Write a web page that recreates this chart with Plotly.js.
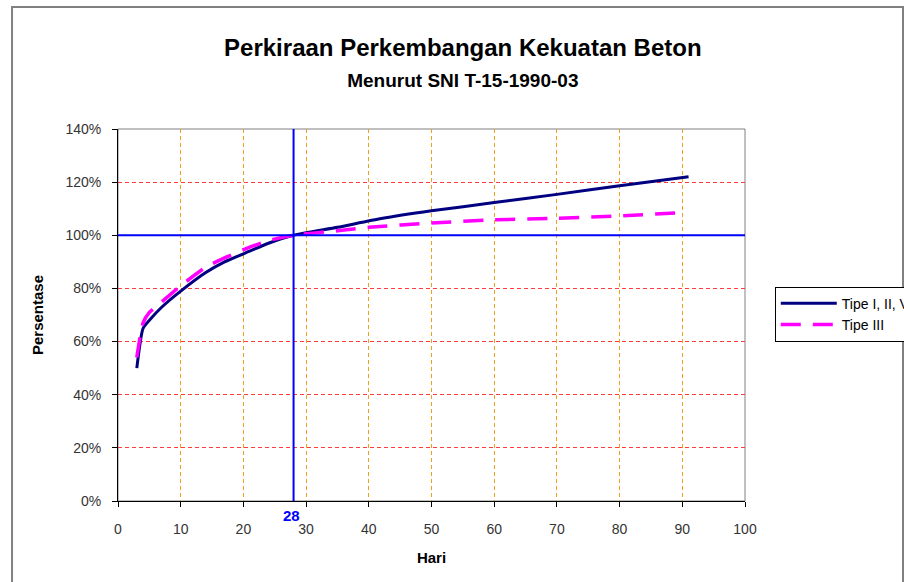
<!DOCTYPE html>
<html>
<head>
<meta charset="utf-8">
<script src="https://cdn.plot.ly/plotly-3.0.1.min.js"></script>
<style>
  html, body { margin: 0; padding: 0; background: #fff; }
  #chart { width: 904px; height: 582px; }
</style>
</head>
<body>
<div id="chart"></div>
<script>
// Days (Hari) and strength percentage (Persentase)
const daysTipe1 = [3, 4, 5, 7, 10, 14, 17, 21, 24, 28, 35, 42, 50, 60, 70, 80, 91];
const valsTipe1 = [0.50, 0.65, 0.68, 0.73, 0.79, 0.86, 0.90, 0.94, 0.97, 1.00, 1.03, 1.063, 1.092, 1.123, 1.154, 1.186, 1.22];
const daysTipe3 = [3, 4, 5, 6, 7, 10, 14, 17, 21, 24, 28, 35, 40, 50, 60, 70, 80, 89];
const valsTipe3 = [0.54, 0.67, 0.71, 0.73, 0.75, 0.81, 0.88, 0.915, 0.955, 0.98, 1.00, 1.017, 1.03, 1.046, 1.058, 1.064, 1.073, 1.084];
const seriesNames = ["Tipe I, II, V", "Tipe III"];
const refDay = [28];
const refPct = [1.0];
const xTicks = [0, 10, 20, 30, 40, 50, 60, 70, 80, 90, 100];
const yTicks = [0, 0.2, 0.4, 0.6, 0.8, 1.0, 1.2, 1.4];

const traces = [
  {
    x: daysTipe1, y: valsTipe1, name: seriesNames[0], type: 'scatter', mode: 'lines',
    line: { color: '#000080', width: 3, shape: 'spline', smoothing: 0.6 }
  },
  {
    x: daysTipe3, y: valsTipe3, name: seriesNames[1], type: 'scatter', mode: 'lines',
    line: { color: '#ff00ff', width: 3.5, dash: '20px,12px', shape: 'spline', smoothing: 0.6 }
  }
];

const layout = {
  width: 904, height: 582,
  paper_bgcolor: '#ffffff', plot_bgcolor: '#ffffff',
  margin: { l: 118, r: 159, t: 129, b: 81, autoexpand: false },
  font: { family: 'Liberation Sans, Arial, sans-serif', color: '#000' },
  title: {
    text: '<b>Perkiraan Perkembangan Kekuatan Beton</b><br><b><span style="font-size:19px">Menurut SNI T-15-1990-03</span></b>',
    font: { size: 24, family: 'Liberation Sans, Arial, sans-serif', color: '#000' },
    x: 0.512, xanchor: 'center', y: 0.904, yanchor: 'middle'
  },
  xaxis: {
    range: [0, 100], tickvals: xTicks, ticktext: xTicks.map(String),
    showgrid: true, gridcolor: '#f0a020', griddash: '4px,3px', gridwidth: 1,
    zeroline: false, showline: true, linecolor: '#000', linewidth: 1,
    ticks: 'outside', ticklen: 5, tickcolor: '#000', ticklabelstandoff: 10,
    tickfont: { size: 14, color: '#333' },
    title: { text: '<b>Hari</b>', font: { size: 15, color: '#000' }, standoff: 16 },
    automargin: false, mirror: false
  },
  yaxis: {
    range: [0, 1.4], tickvals: yTicks, ticktext: yTicks.map(v => Math.round(v * 100) + '%'),
    showgrid: true, gridcolor: '#ff3c3c', griddash: '4px,3px', gridwidth: 1,
    zeroline: false, showline: true, linecolor: '#000', linewidth: 1,
    ticks: 'outside', ticklen: 5, tickcolor: '#000', ticklabelstandoff: 8,
    tickfont: { size: 14, color: '#333' },
    title: { text: '<b>Persentase</b>', font: { size: 15, color: '#000' }, standoff: 18 },
    automargin: false
  },
  showlegend: true,
  legend: {
    x: 1.0475, xanchor: 'left', y: 0.502, yanchor: 'middle',
    bgcolor: '#ffffff', bordercolor: '#000', borderwidth: 1,
    font: { size: 14, color: '#000' }, tracegroupgap: 0, itemwidth: 56
  },
  shapes: [
    { type: 'rect', xref: 'paper', yref: 'paper', x0: 0, x1: 1, y0: 0, y1: 1,
      line: { color: '#808080', width: 1 }, layer: 'below' },
    { type: 'rect', xref: 'paper', yref: 'paper', x0: -0.169, x1: 1.252, y0: -0.4, y1: 1.328,
      line: { color: '#808080', width: 2 } },
    { type: 'line', xref: 'x', yref: 'paper', x0: refDay[0], x1: refDay[0], y0: 0, y1: 1,
      line: { color: '#0000ff', width: 2 } },
    { type: 'line', xref: 'paper', yref: 'y', x0: 0, x1: 1, y0: refPct[0], y1: refPct[0],
      line: { color: '#0000ff', width: 2 } }
  ],
  annotations: [
    { x: refDay[0], xref: 'x', y: 0, yref: 'paper', yshift: -14, xshift: -2, text: '<b>' + refDay[0] + '</b>',
      showarrow: false, font: { size: 15, color: '#0000ff' }, xanchor: 'center', yanchor: 'middle' }
  ]
};

Plotly.newPlot('chart', traces, layout, { displayModeBar: false, staticPlot: true });
</script>
</body>
</html>
